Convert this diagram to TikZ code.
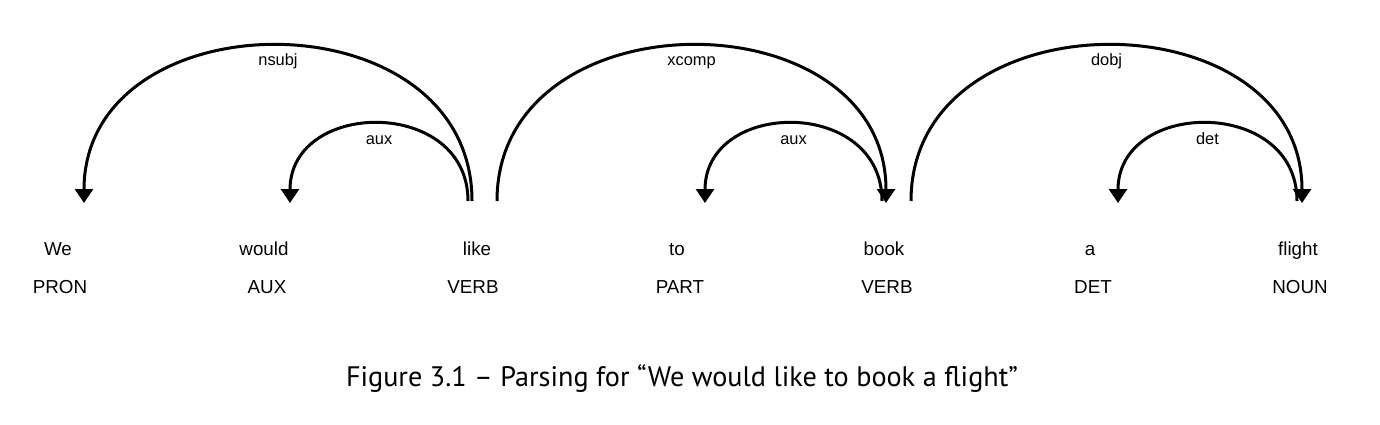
\documentclass[tikz,border=0pt]{standalone}
\usepackage{fontspec}
\setmainfont{Liberation Sans}
\newfontfamily\capfont{PT Sans}
\usetikzlibrary{arrows.meta}

\begin{document}
\begin{tikzpicture}[x=0.5pt,y=0.5pt,line width=1.5pt,
  word/.style={font=\fontsize{9.4}{11}\selectfont,anchor=base},
  dep/.style={-{Triangle[width=9pt,length=7pt]}},
  deplabel/.style={font=\fontsize{8.2}{10}\selectfont,anchor=base,yshift=-10pt}]
\useasboundingbox (0,0) rectangle (1380,424);
% words
\node[word] (we) at (58,169) {We};
\node[word] (would) at (264,169) {would};
\node[word] (like) at (477,169) {like};
\node[word] (to) at (677,169) {to};
\node[word] (book) at (884,169) {book};
\node[word] (a) at (1090,169) {a};
\node[word] (flight) at (1298,169) {flight};
% tags
\node[word] (pron) at (60,131) {PRON};
\node[word] (aux) at (267,131) {AUX};
\node[word] (verb1) at (473,131) {VERB};
\node[word] (part) at (680,131) {PART};
\node[word] (verb2) at (887,131) {VERB};
\node[word] (det) at (1093,131) {DET};
\node[word] (noun) at (1300,131) {NOUN};
% arc ends
\coordinate (we-in) at (84,221);
\coordinate (would-in) at (290,221);
\coordinate (like-out1) at (468,223);
\coordinate (like-out2) at (472,223);
\coordinate (like-out3) at (497,223);
\coordinate (to-in) at (705,221);
\coordinate (book-in) at (886,221);
\coordinate (book-out1) at (882,223);
\coordinate (book-out2) at (911,223);
\coordinate (a-in) at (1118,221);
\coordinate (flight-in) at (1302,221);
\coordinate (flight-out) at (1297,223);
% arcs
\draw[dep] (like-out2) .. controls +(0,208) and +(0,208) .. (we-in)
  node[deplabel,pos=0.5] {nsubj};
\draw[dep] (like-out1) .. controls +(0,104) and +(0,104) .. (would-in)
  node[deplabel,pos=0.5] {aux};
\draw[dep] (like-out3) .. controls +(0,208) and +(0,208) .. (book-in)
  node[deplabel,pos=0.5] {xcomp};
\draw[dep] (book-out1) .. controls +(0,104) and +(0,104) .. (to-in)
  node[deplabel,pos=0.5] {aux};
\draw[dep] (book-out2) .. controls +(0,208) and +(0,208) .. (flight-in)
  node[deplabel,pos=0.5] {dobj};
\draw[dep] (flight-out) .. controls +(0,104) and +(0,104) .. (a-in)
  node[deplabel,pos=0.5] {det};
% caption
\node[font=\capfont\fontsize{14.1}{17}\selectfont,anchor=base] (caption) at (682,38)
  {Figure 3.1 – Parsing for “We would like to book a flight”};
\end{tikzpicture}
\end{document}
